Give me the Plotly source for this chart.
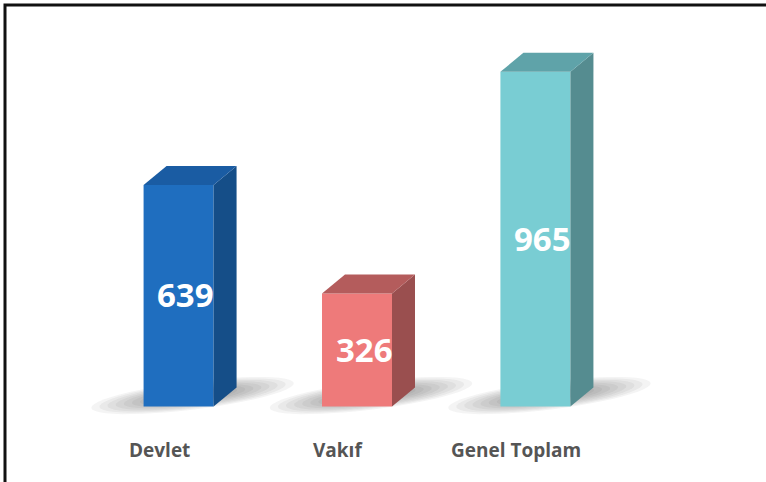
import math
import plotly.graph_objects as go

# data
categories = ['Devlet', 'Vakıf', 'Genel Toplam']
values = [639, 326, 965]

FRONT = ['#1f6ebf', '#ee7a7a', '#79cdd3']
TOP = ['#1a5ca3', '#b45c5c', '#5fa3a9']
SIDE = ['#154e88', '#9a4f4f', '#558c90']

W, H = 766, 482
L, R, T, B = 18, 70, 25, 6
X_RANGE = [-0.9, 2.9]
Y_RANGE = [-200, 1100]

# pixel scale of each axis (to size things in screen pixels)
PX_X = (W - L - R) / (X_RANGE[1] - X_RANGE[0])
PX_Y = (H - T - B) / (Y_RANGE[1] - Y_RANGE[0])

HALF = 35 / PX_X      # half of front width
DX = 23 / PX_X        # depth to the right
DV = 19 / PX_Y        # depth upward

xs = list(range(len(categories)))

fig = go.Figure()

# front faces
fig.add_trace(go.Bar(
    x=xs, y=values, width=2 * HALF,
    marker=dict(color=FRONT, line=dict(width=0)),
    hoverinfo='skip', showlegend=False,
))

# side + top faces
for i, v in enumerate(values):
    c = xs[i]
    fig.add_trace(go.Scatter(
        x=[c + HALF, c + HALF + DX, c + HALF + DX, c + HALF, c + HALF],
        y=[0, DV, v + DV, v, 0],
        mode='lines', fill='toself', fillcolor=SIDE[i],
        line=dict(width=0, color=SIDE[i]), hoverinfo='skip', showlegend=False,
    ))
    fig.add_trace(go.Scatter(
        x=[c - HALF, c - HALF + DX, c + HALF + DX, c + HALF, c - HALF],
        y=[v, v + DV, v + DV, v, v],
        mode='lines', fill='toself', fillcolor=TOP[i],
        line=dict(width=0, color=TOP[i]), hoverinfo='skip', showlegend=False,
    ))


def shadow_path(cx, cy, a_px, b_px, angle_deg, n=48):
    # tilted ellipse, sized in pixels, returned as an svg path in data units
    ang = math.radians(angle_deg)
    pts = []
    for k in range(n):
        t = 2 * math.pi * k / n
        ex, ey = a_px * math.cos(t), b_px * math.sin(t)
        rx = ex * math.cos(ang) - ey * math.sin(ang)
        ry = ex * math.sin(ang) + ey * math.cos(ang)
        pts.append((cx + rx / PX_X, cy + ry / PX_Y))
    return 'M ' + ' L '.join(f'{px:.4f},{py:.3f}' for px, py in pts) + ' Z'


# soft floor shadows (stacked translucent ellipses)
shapes = []
for i, v in enumerate(values):
    cx = xs[i] + 14 / PX_X
    cy = 32
    for k in range(9):
        s = 1 - k * 0.08
        shapes.append(dict(
            type='path', xref='x', yref='y', layer='below',
            path=shadow_path(cx, cy, 102 * s, 14 * s, 7),
            fillcolor='rgba(40,40,40,0.05)', line=dict(width=0),
        ))

# frame border (top and left visible)
shapes.append(dict(
    type='rect', xref='paper', yref='paper',
    xsizemode='pixel', ysizemode='pixel', xanchor=0, yanchor=1,
    x0=5 - L, x1=W + 200, y0=T - 5, y1=-(H + 200),
    line=dict(color='#111111', width=3), fillcolor='rgba(0,0,0,0)',
))

# value labels
for i, v in enumerate(values):
    fig.add_annotation(
        x=xs[i], y=v / 2, xref='x', yref='y', text=str(v), showarrow=False,
        xshift=7, yshift=1,
        font=dict(family='Open Sans', size=33, color='white', weight='bold'),
    )

# category labels
for i, name in enumerate(categories):
    fig.add_annotation(
        x=xs[i], y=-125, xref='x', yref='y', text=name, showarrow=False,
        xshift=-19, font=dict(family='Open Sans', size=19, color='#555555', weight='bold'),
    )

fig.update_xaxes(visible=False, range=X_RANGE, fixedrange=True)
fig.update_yaxes(visible=False, range=Y_RANGE, fixedrange=True)
fig.update_layout(
    width=W, height=H,
    margin=dict(l=L, r=R, t=T, b=B),
    paper_bgcolor='white', plot_bgcolor='white',
    shapes=shapes, showlegend=False,
)

fig.write_html(
    'out.html',
    config={'displayModeBar': False},
    post_script="document.body.style.margin='0';document.body.style.overflow='hidden';",
)
